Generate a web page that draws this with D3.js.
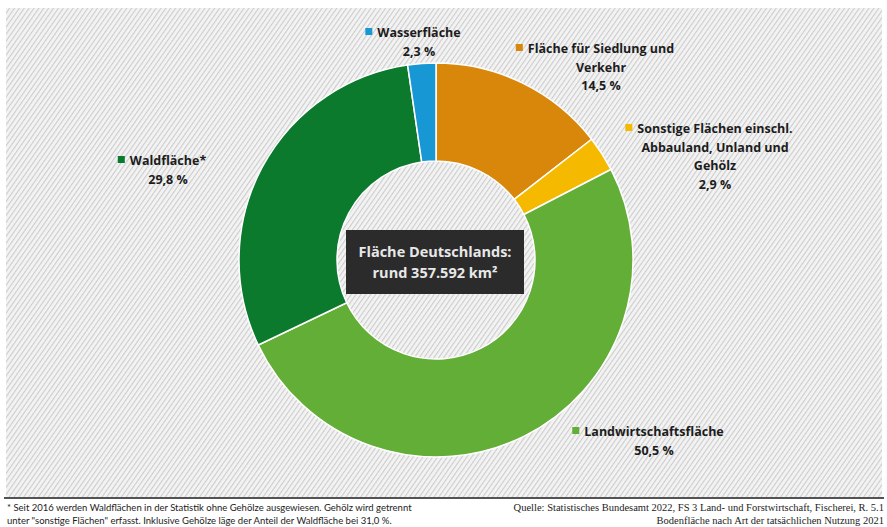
<!DOCTYPE html>
<html>
<head>
<meta charset="utf-8">
<script src="https://cdn.jsdelivr.net/npm/d3@7"></script>
<style>
  body { margin: 0; background: #fff; }
  svg { display: block; }
</style>
</head>
<body>
<div id="chart"></div>
<script>
var svgWidth = 887;
var svgHeight = 527;

// Data (clockwise from 12 o'clock)
var categories = ["Fläche für Siedlung und Verkehr", "Sonstige Flächen einschl. Abbauland, Unland und Gehölz", "Landwirtschaftsfläche", "Waldfläche*", "Wasserfläche"];
var shares = [14.5, 2.9, 50.5, 29.8, 2.3];
var shareLabels = ["14,5 %", "2,9 %", "50,5 %", "29,8 %", "2,3 %"];
var labelLines = [
  ["Fläche für Siedlung und", "Verkehr"],
  ["Sonstige Flächen einschl.", "Abbauland, Unland und", "Gehölz"],
  ["Landwirtschaftsfläche"],
  ["Waldfläche*"],
  ["Wasserfläche"]
];
var colors = ["#d8870a", "#f5b900", "#62ae36", "#0b7a2d", "#1798d5"];

var centerLines = ["Fläche Deutschlands:", "rund 357.592 km²"];
var footnoteLines = [
  "* Seit 2016 werden Waldflächen in der Statistik ohne Gehölze ausgewiesen. Gehölz wird getrennt",
  "unter \"sonstige Flächen\" erfasst. Inklusive Gehölze läge der Anteil der Waldfläche bei 31,0 %."
];
var sourceLines = [
  "Quelle: Statistisches Bundesamt 2022, FS 3 Land- und Forstwirtschaft, Fischerei, R. 5.1",
  "Bodenfläche nach Art der tatsächlichen Nutzung 2021"
];

// label anchor points (centre / first baseline of each text block)
var labelPos = [[601, 53], [715, 133], [654, 436], [168, 165], [419, 37]];

var cx = 436, cy = 260, outerR = 197, innerR = 99;

var svg = d3.select("#chart")
  .append("svg")
  .attr("width", svgWidth)
  .attr("height", svgHeight);

// hatched background
var defs = svg.append("defs");
var pat = defs.append("pattern")
  .attr("id", "hatch")
  .attr("width", 4)
  .attr("height", 4)
  .attr("patternUnits", "userSpaceOnUse")
  .attr("patternTransform", "rotate(35)");
pat.append("rect").attr("width", 4).attr("height", 4).attr("fill", "#f3f3f3");
pat.append("line")
  .attr("x1", 0.5).attr("y1", 0).attr("x2", 0.5).attr("y2", 4)
  .attr("stroke", "#cccccc").attr("stroke-width", 1.2);

svg.append("rect")
  .attr("x", 6).attr("y", 8)
  .attr("width", 876).attr("height", 489)
  .attr("fill", "url(#hatch)");

// donut
var pie = d3.pie().sort(null).value(d => d);
var arc = d3.arc().innerRadius(innerR).outerRadius(outerR);

var chartGroup = svg.append("g")
  .attr("transform", `translate(${cx}, ${cy})`);

chartGroup.selectAll("path")
  .data(pie(shares))
  .enter()
  .append("path")
  .attr("d", arc)
  .attr("fill", (d, i) => colors[i])
  .attr("stroke", "#ffffff")
  .attr("stroke-width", 1.5)
  .attr("stroke-linejoin", "round");

// centre box
chartGroup.append("rect")
  .attr("x", -90).attr("y", -30)
  .attr("width", 178).attr("height", 64)
  .attr("fill", "#2b2b2b");

chartGroup.selectAll(".centerText")
  .data(centerLines)
  .enter()
  .append("text")
  .attr("x", -1)
  .attr("y", (d, i) => -3 + i * 21)
  .attr("text-anchor", "middle")
  .attr("font-family", "'Open Sans', Lato, sans-serif")
  .attr("font-weight", "bold")
  .attr("font-size", "14.5px")
  .attr("fill", "#e8e8e8")
  .text(d => d);

// labels
var lineH = 18.5;
categories.forEach(function(cat, i) {
  var g = svg.append("g")
    .attr("transform", `translate(${labelPos[i][0]}, ${labelPos[i][1]})`);
  var lines = labelLines[i].concat([shareLabels[i]]);
  lines.forEach(function(line, j) {
    var t = g.append("text")
      .attr("x", 0)
      .attr("y", j * lineH)
      .attr("text-anchor", "middle")
      .attr("font-family", "'Open Sans', Lato, sans-serif")
      .attr("font-weight", "bold")
      .attr("font-size", "12.5px")
      .attr("fill", "#1c1c1c")
      .text(line);
    if (j === 0) {
      var w = t.node().getComputedTextLength();
      g.append("rect")
        .attr("x", -w / 2 - 12)
        .attr("y", -9)
        .attr("width", 7).attr("height", 7)
        .attr("fill", colors[i]);
    }
  });
});

// footer rule
svg.append("line")
  .attr("x1", 4).attr("x2", 884)
  .attr("y1", 498).attr("y2", 498)
  .attr("stroke", "#1a1a1a").attr("stroke-width", 1.6);

svg.selectAll(".footnote")
  .data(footnoteLines)
  .enter()
  .append("text")
  .attr("x", 7)
  .attr("y", (d, i) => 511 + i * 13)
  .attr("font-family", "Lato, 'Open Sans', sans-serif")
  .attr("font-size", "9.5px")
  .attr("fill", "#1c1c1c")
  .text(d => d);

// source lines are right-aligned against the page edge
svg.selectAll(".source")
  .data(sourceLines)
  .enter()
  .append("text")
  .attr("x", 884)
  .attr("y", (d, i) => 511 + i * 13)
  .attr("text-anchor", "end")
  .attr("font-family", "'Liberation Serif', 'DejaVu Serif', serif")
  .attr("font-size", "10.5px")
  .attr("fill", "#1c1c1c")
  .text(d => d);
</script>
</body>
</html>
